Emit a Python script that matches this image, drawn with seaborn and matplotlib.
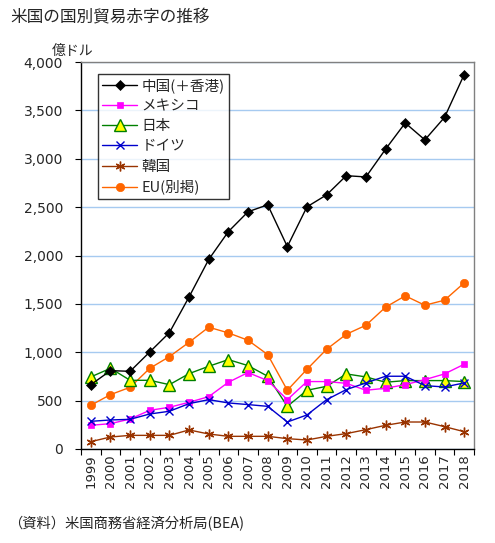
import numpy as np
import pandas as pd
import matplotlib
matplotlib.use("Agg")
import matplotlib.pyplot as plt
import seaborn as sns
from matplotlib.ticker import FuncFormatter, MultipleLocator

years = [str(y) for y in range(1999, 2019)]
china = [665, 810, 803, 1003, 1203, 1572, 1959, 2247, 2452, 2524, 2092, 2503, 2627, 2825, 2812, 3099, 3370, 3195, 3428, 3870]
mexico = [245, 262, 310, 400, 431, 483, 541, 690, 790, 707, 510, 697, 697, 679, 607, 628, 665, 717, 776, 876]
japan = [745, 834, 710, 710, 665, 779, 855, 924, 862, 752, 441, 607, 648, 776, 745, 690, 707, 707, 707, 697]
germany = [286, 300, 307, 362, 390, 469, 510, 476, 459, 441, 279, 352, 510, 614, 683, 752, 752, 655, 641, 683]
korea = [76, 124, 141, 141, 141, 197, 155, 131, 131, 131, 107, 93, 131, 159, 200, 245, 279, 279, 231, 179]
eu = [452, 562, 638, 834, 955, 1103, 1259, 1200, 1124, 976, 607, 824, 1031, 1186, 1279, 1466, 1583, 1486, 1538, 1717]

series_names = ["中国(＋香港)", "メキシコ", "日本", "ドイツ", "韓国", "EU(別掲)"]
series_vals = [china, mexico, japan, germany, korea, eu]

title = "米国の国別貿易赤字の推移"
unit = "億ドル"
note = "（資料）米国商務省経済分析局(BEA)"

sns.set_theme(style="white")
plt.rcParams['font.family'] = ['Noto Sans CJK JP', 'DejaVu Sans']

fig = plt.figure(figsize=(4.95, 5.43), dpi=100)
ax = fig.add_axes([81/495, 1 - 449/543, 393/495, 387/543])

styles = {
    "中国(＋香港)": dict(color="black", marker="D", ms=5.5, mfc="black", mec="black", mew=0.5),
    "メキシコ": dict(color="#FF00FF", marker="s", ms=5, mfc="#FF00FF", mec="#FF00FF", mew=0.5),
    "日本": dict(color="#008000", marker="^", ms=9, mfc="#FFFF00", mec="#008000", mew=1.0),
    "ドイツ": dict(color="#0000CC", marker="x", ms=6, mfc="#0000CC", mec="#0000CC", mew=1.0),
    "韓国": dict(color="#993300", marker=(6, 2, 0), ms=7, mfc="#993300", mec="#993300", mew=1.0),
    "EU(別掲)": dict(color="#FF6600", marker="o", ms=6, mfc="#FF6600", mec="#FF6600", mew=0.5),
}
zorders = {"中国(＋香港)": 8, "メキシコ": 6, "日本": 5, "ドイツ": 7, "韓国": 4, "EU(別掲)": 3}

for name, vals in zip(series_names, series_vals):
    df = pd.DataFrame({"x": np.arange(len(years)), "y": vals})
    st = styles[name]
    sns.lineplot(data=df, x="x", y="y", ax=ax, color=st["color"], lw=1.0,
                 marker=st["marker"], markersize=st["ms"], markerfacecolor=st["mfc"],
                 markeredgecolor=st["mec"], markeredgewidth=st["mew"],
                 label=name, zorder=zorders[name])

ax.set_xlim(-0.5, len(years) - 0.5)
ax.set_ylim(0, 4000)
ax.yaxis.set_major_locator(MultipleLocator(500))
ax.yaxis.set_major_formatter(FuncFormatter(lambda v, p: f"{int(v):,}"))
ax.set_xticks(np.arange(len(years)))
ax.set_xticklabels(years, rotation=90, fontsize=9.5, family=['DejaVu Sans'])
ax.set_xticks(np.arange(-0.5, len(years), 1.0), minor=True)
ax.tick_params(axis='x', which='major', length=0, pad=4)
ax.tick_params(axis='x', which='minor', length=4, width=0.8, color='black', direction='out', bottom=True)
ax.tick_params(axis='y', which='major', length=4, width=0.8, color='black', direction='out', left=True, labelsize=10, pad=9)
for lbl in ax.get_yticklabels():
    lbl.set_family(['DejaVu Sans'])
ax.set_xlabel("")
ax.set_ylabel("")
ax.yaxis.grid(True, color="#A6CAF0", lw=1.0)
ax.set_axisbelow(True)
for s in ["top", "right"]:
    ax.spines[s].set_color("#808080")
    ax.spines[s].set_linewidth(1.0)
for s in ["left", "bottom"]:
    ax.spines[s].set_color("black")
    ax.spines[s].set_linewidth(1.0)

leg = ax.legend(loc="upper left", bbox_to_anchor=((98 - 81) / 393, (449 - 74) / 387),
                fontsize=10.5, frameon=True, fancybox=False, edgecolor="black",
                handlelength=2.4, borderpad=0.3, labelspacing=0.42, handletextpad=0.3,
                borderaxespad=0)
leg.get_frame().set_linewidth(1.0)

fig.text(10 / 495, 1 - 18 / 543, title, fontsize=12, va="center", ha="left")
fig.text(73 / 495, 1 - 51 / 543, unit, fontsize=10, va="center", ha="center")
fig.text(8 / 495, 1 - 524 / 543, note, fontsize=10.3, va="center", ha="left")

fig.savefig("out.png", dpi=100, facecolor="white")
